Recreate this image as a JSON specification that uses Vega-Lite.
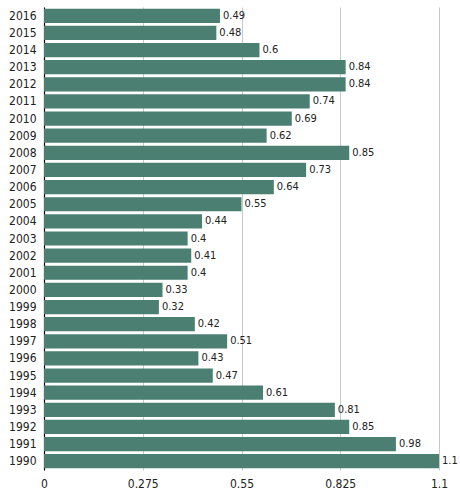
{
  "$schema": "https://vega.github.io/schema/vega-lite/v6.json",
  "autosize": {"type": "none"},
  "padding": {"left": 44, "top": 7, "right": 21, "bottom": 30},
  "width": 395,
  "height": 463,
  "background": "white",
  "data": {
    "values": [
      {"year": "2016", "value": 0.49},
      {"year": "2015", "value": 0.48},
      {"year": "2014", "value": 0.6},
      {"year": "2013", "value": 0.84},
      {"year": "2012", "value": 0.84},
      {"year": "2011", "value": 0.74},
      {"year": "2010", "value": 0.69},
      {"year": "2009", "value": 0.62},
      {"year": "2008", "value": 0.85},
      {"year": "2007", "value": 0.73},
      {"year": "2006", "value": 0.64},
      {"year": "2005", "value": 0.55},
      {"year": "2004", "value": 0.44},
      {"year": "2003", "value": 0.4},
      {"year": "2002", "value": 0.41},
      {"year": "2001", "value": 0.4},
      {"year": "2000", "value": 0.33},
      {"year": "1999", "value": 0.32},
      {"year": "1998", "value": 0.42},
      {"year": "1997", "value": 0.51},
      {"year": "1996", "value": 0.43},
      {"year": "1995", "value": 0.47},
      {"year": "1994", "value": 0.61},
      {"year": "1993", "value": 0.81},
      {"year": "1992", "value": 0.85},
      {"year": "1991", "value": 0.98},
      {"year": "1990", "value": 1.1}
    ]
  },
  "encoding": {
    "y": {
      "field": "year",
      "type": "nominal",
      "sort": null,
      "title": null,
      "scale": {"paddingInner": 0.17, "paddingOuter": 0.1},
      "axis": {
        "ticks": false,
        "domainColor": "#000",
        "domainWidth": 1.2,
        "labelPadding": 8,
        "labelFontSize": 12,
        "labelColor": "#222"
      }
    },
    "x": {
      "field": "value",
      "type": "quantitative",
      "title": null,
      "scale": {"domain": [0, 1.1], "nice": false},
      "axis": {
        "values": [0, 0.275, 0.55, 0.825, 1.1],
        "format": ".3~f",
        "domain": false,
        "ticks": false,
        "grid": true,
        "gridColor": "#c8c8c8",
        "labelPadding": 8,
        "labelFontSize": 12,
        "labelColor": "#222",
        "labelFlush": false
      }
    }
  },
  "layer": [
    {"mark": {"type": "bar", "color": "#4a7f72"}},
    {
      "mark": {"type": "text", "align": "left", "dx": 3, "fontSize": 11, "color": "#222"},
      "encoding": {"text": {"field": "value", "type": "quantitative", "format": ".2~f"}}
    }
  ],
  "config": {
    "view": {"stroke": null},
    "font": "DejaVu Sans Condensed"
  }
}
